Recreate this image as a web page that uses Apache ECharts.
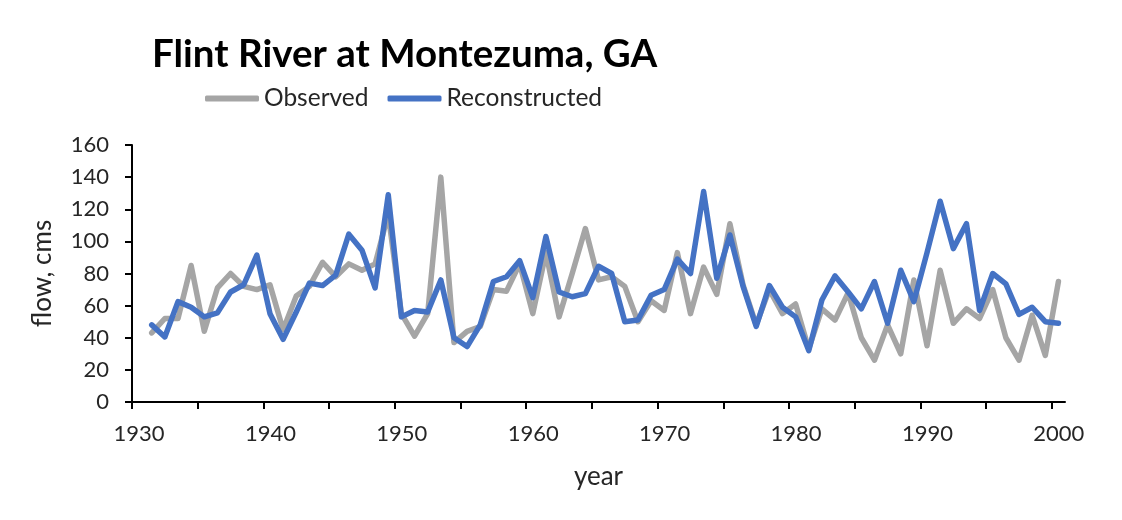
<!DOCTYPE html>
<html>
<head>
<meta charset="utf-8">
<script src="https://cdn.jsdelivr.net/npm/echarts@6/dist/echarts.min.js"></script>
<style>
  html, body { margin: 0; padding: 0; background: #ffffff; }
  #chart { width: 1122px; height: 520px; }
</style>
</head>
<body>
<div id="chart"></div>
<script>
// ---- data ----
const years = [
  1931, 1932, 1933, 1934, 1935, 1936, 1937, 1938, 1939, 1940,
  1941, 1942, 1943, 1944, 1945, 1946, 1947, 1948, 1949, 1950,
  1951, 1952, 1953, 1954, 1955, 1956, 1957, 1958, 1959, 1960,
  1961, 1962, 1963, 1964, 1965, 1966, 1967, 1968, 1969, 1970,
  1971, 1972, 1973, 1974, 1975, 1976, 1977, 1978, 1979, 1980,
  1981, 1982, 1983, 1984, 1985, 1986, 1987, 1988, 1989, 1990,
  1991, 1992, 1993, 1994, 1995, 1996, 1997, 1998, 1999, 2000
];
const observed = [
  43, 52, 52, 85, 44, 71, 80, 72, 70, 73,
  45, 66, 72, 87, 78, 86, 82, 86, 117, 55,
  41, 55, 140, 37, 44, 47, 70, 69, 86, 55,
  93, 53, 80, 108, 76, 78, 72, 50, 63, 57,
  93, 55, 84, 67, 111, 73, 48, 70, 55, 61,
  33, 58, 51, 68, 40, 26, 48, 30, 76, 35,
  82, 49, 58, 52, 70, 40, 26, 54, 29, 75
];
const reconstructed = [
  48, 40.5, 62.5, 59, 53, 55.5, 68.5, 73, 91.5, 55,
  39, 56, 74, 72.5, 79, 104.5, 94.5, 71, 129, 53,
  57, 56, 76, 40, 34.5, 48, 75, 78, 88, 65,
  103, 68.5, 65.5, 67.5, 84.5, 80, 50, 51, 66.5, 70,
  89, 80, 131, 77, 104, 72, 47, 72.5, 59, 53,
  32, 63.5, 78.5, 68.5, 58, 75, 49, 82, 62.5, 93,
  125, 95.5, 111, 57, 80, 73.5, 54.5, 59, 50, 49
];
const xTickValues = [1930, 1935, 1940, 1945, 1950, 1955, 1960, 1965, 1970, 1975, 1980, 1985, 1990, 1995, 2000];
const xTickLabels = [1930, 1940, 1950, 1960, 1970, 1980, 1990, 2000];
const seriesNames = ['Observed', 'Reconstructed'];
const titleText = 'Flint River at Montezuma, GA';

// each annual value is plotted at the middle of its year
const midYear = 0.5;
const toPairs = vals => years.map((y, i) => [y + midYear, vals[i]]);

const FONT = 'Lato';
const chart = echarts.init(document.getElementById('chart'), null, { renderer: 'canvas' });
chart.setOption({
  animation: false,
  backgroundColor: '#ffffff',
  title: {
    text: titleText,
    left: 152,
    top: 35,
    padding: 0,
    textStyle: { fontFamily: FONT, fontWeight: 'bold', fontSize: 38.5, color: '#000000' }
  },
  legend: {
    data: seriesNames,
    left: 205,
    top: 86,
    padding: 0,
    itemGap: 19,
    itemWidth: 54,
    itemHeight: 6,
    icon: 'roundRect',
    textStyle: { fontFamily: FONT, fontSize: 24.5, color: '#262626' }
  },
  grid: { left: 132, right: 57, top: 145, bottom: 118, containLabel: false },
  xAxis: {
    type: 'value',
    min: 1930,
    max: 2001,
    name: 'year',
    nameLocation: 'middle',
    nameGap: 62,
    nameTextStyle: { fontFamily: FONT, fontSize: 26, color: '#262626' },
    axisLine: { show: true, lineStyle: { color: '#000000', width: 2 } },
    axisTick: { show: true, customValues: xTickValues, inside: false, length: 7, lineStyle: { color: '#000000', width: 2 } },
    axisLabel: {
      customValues: xTickLabels,
      formatter: v => String(v),
      margin: 21,
      padding: [0, 0, 0, 14],
      fontFamily: FONT, fontSize: 22, color: '#262626'
    },
    splitLine: { show: false }
  },
  yAxis: {
    type: 'value',
    min: 0,
    max: 160,
    interval: 20,
    name: 'flow, cms',
    nameLocation: 'middle',
    nameRotate: 90,
    nameGap: 76,
    nameTextStyle: { fontFamily: FONT, fontSize: 26, color: '#262626' },
    axisLine: { show: true, lineStyle: { color: '#000000', width: 2 } },
    axisTick: { show: true, inside: false, length: 7, lineStyle: { color: '#000000', width: 2 } },
    axisLabel: { formatter: v => String(v), margin: 23, fontFamily: FONT, fontSize: 22, color: '#262626' },
    splitLine: { show: false }
  },
  series: [
    {
      name: seriesNames[0],
      type: 'line',
      data: toPairs(observed),
      symbol: 'none',
      lineStyle: { color: '#A5A5A5', width: 5.5, join: 'round', cap: 'round' },
      itemStyle: { color: '#A5A5A5' },
      z: 2
    },
    {
      name: seriesNames[1],
      type: 'line',
      data: toPairs(reconstructed),
      symbol: 'none',
      lineStyle: { color: '#4472C4', width: 5.5, join: 'round', cap: 'round' },
      itemStyle: { color: '#4472C4' },
      z: 3
    }
  ]
});
</script>
</body>
</html>
